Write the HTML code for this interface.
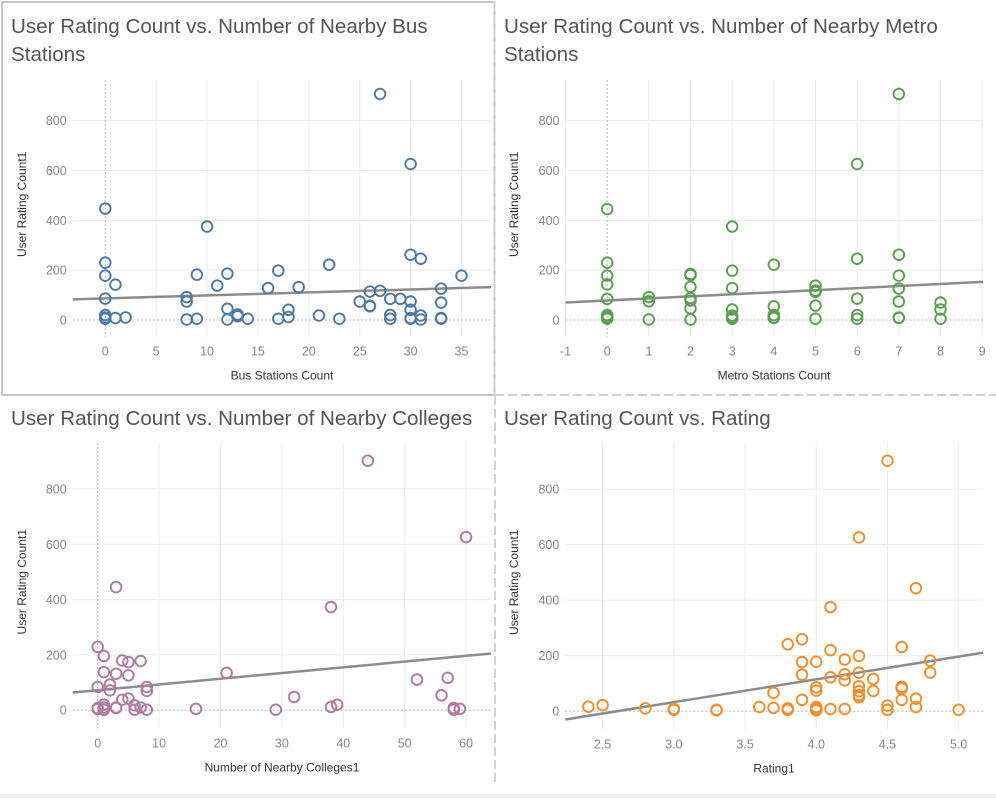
<!DOCTYPE html>
<html><head><meta charset="utf-8">
<style>
html,body{margin:0;padding:0;background:#fff;}
body{width:996px;height:798px;overflow:hidden;font-family:"Liberation Sans",sans-serif;}
svg text{font-family:"Liberation Sans",sans-serif;}
</style></head>
<body>
<svg id="root" width="996" height="798" viewBox="0 0 996 798">
  <rect x="0" y="794" width="996" height="4" fill="#f0f0f0"/>
  <rect x="2" y="2" width="492.5" height="393" fill="none" stroke="#c6c6c6" stroke-width="2"/>
  <line x1="495" y1="395" x2="996" y2="395" stroke="#b9c4d6" stroke-width="1.5" stroke-dasharray="9,4"/>
  <line x1="495" y1="396" x2="495" y2="786" stroke="#b9c4d6" stroke-width="1.5" stroke-dasharray="9,4"/>
  <line x1="495" y1="2" x2="495" y2="395" stroke="#d6dbe4" stroke-width="1" stroke-dasharray="9,4"/>
</svg>
<script>
// ---- Chart 1: Bus stations ----
const busX = [0,0,0,0,0,0,0,1,1,2,8,8,8,9,9,10,11,12,12,12,13,13,14,16,17,17,18,18,19,21,22,23,25,26,26,26,27,27,28,28,28,29,30,30,30,30,30,30,31,31,31,33,33,33,33,35];
const busY = [447,230,178,86,20,10,5,142,8,10,92,74,2,182,5,375,138,186,45,2,22,15,5,128,198,5,41,12,132,18,222,5,74,114,57,55,907,117,85,20,5,85,626,262,74,41,8,5,246,18,2,126,70,8,5,178];
const busTrend = [83,132];
const busXTicks = [0,5,10,15,20,25,30,35];
// ---- Chart 2: Metro stations ----
const metroX = [0,0,0,0,0,0,0,0,0,1,1,1,2,2,2,2,2,2,2,3,3,3,3,3,3,3,4,4,4,4,4,5,5,5,5,5,6,6,6,6,6,7,7,7,7,7,7,7,8,8,8];
const metroY = [445,230,178,143,85,20,12,8,5,92,75,2,185,180,133,88,78,46,2,375,198,128,42,18,10,5,222,55,20,10,8,138,118,113,58,5,626,246,86,20,5,907,262,178,126,74,10,8,70,42,5];
const metroTrend = [70,153];
const metroXTicks = [-1,0,1,2,3,4,5,6,7,8,9];
// ---- Chart 3: Colleges ----
const colX = [0,0,0,0,1,1,1,1,1,2,2,3,3,3,3,4,4,5,5,5,6,6,7,7,8,8,8,16,21,29,32,38,38,39,44,52,56,57,58,58,59,60];
const colY = [229,84,5,8,196,138,20,10,2,93,72,445,132,10,8,180,38,174,126,42,18,2,178,10,84,70,2,5,135,2,48,373,12,20,902,111,54,117,8,2,5,626];
const colTrend = [64,205];
const colXTicks = [0,10,20,30,40,50,60];
// ---- Chart 4: Rating ----
const ratX = [2.4,2.5,2.8,3.0,3.0,3.3,3.3,3.6,3.7,3.7,3.8,3.8,3.8,3.9,3.9,3.9,3.9,4.0,4.0,4.0,4.0,4.0,4.0,4.1,4.1,4.1,4.1,4.2,4.2,4.2,4.2,4.3,4.3,4.3,4.3,4.3,4.3,4.3,4.4,4.4,4.5,4.5,4.5,4.6,4.6,4.6,4.6,4.7,4.7,4.7,4.8,4.8,5.0];
const ratY = [16,22,10,8,5,5,3,15,66,12,241,10,5,259,177,131,41,178,86,74,15,8,3,375,220,122,8,186,133,111,8,626,199,139,90,72,58,50,116,73,902,20,5,231,88,82,41,443,45,15,182,139,5];
const ratTrend = [-30,211];
const ratXTicks = ["2.5","3.0","3.5","4.0","4.5","5.0"];
const yTicks = [0,200,400,600,800];

const NS = "http://www.w3.org/2000/svg";
const root = document.getElementById('root');
function mk(tag, attrs, parent){
  const e = document.createElementNS(NS, tag);
  for (const k in attrs) e.setAttribute(k, attrs[k]);
  (parent||root).appendChild(e);
  return e;
}

function chart(cfg){
  const g = mk('g', {});
  
  
  const L = cfg.left, R = cfg.right, T = cfg.top, B = cfg.bottom;
  const xs = v => L + (v - cfg.xmin) / (cfg.xmax - cfg.xmin) * (R - L);
  const ys = v => B - (v - cfg.ymin) / (cfg.ymax - cfg.ymin) * (B - T);
  cfg.title.forEach((t, i) => {
    const tt = mk('text', {x: cfg.titleX, y: cfg.titleY + i*28, 'font-size': 20.6, fill: '#555'}, g);
    tt.textContent = t;
    
    
  });
  yTicks.forEach(v => {
    const y = ys(v);
    if (v !== 0) {
      const gl = mk('line', {x1: L, x2: R, y1: y, y2: y, stroke: '#ececec', 'stroke-width': 1}, g);
      
      
    }
    const tl = mk('text', {x: L - 6, y: y + 4.5, 'font-size': 12.5, fill: '#888', 'text-anchor': 'end'}, g);
    tl.textContent = v;
    
    
  });
  cfg.xticks.forEach(v => {
    const x = xs(parseFloat(v));
    if (parseFloat(v) !== 0) {
      const gl = mk('line', {x1: x, x2: x, y1: T, y2: B, stroke: '#ececec', 'stroke-width': 1}, g);
      
      
    }
    const tl = mk('text', {x: x, y: B + 19, 'font-size': 12.5, fill: '#888', 'text-anchor': 'middle'}, g);
    tl.textContent = v;
    
    
  });
  const zx = mk('line', {x1: L, x2: R, y1: ys(0), y2: ys(0), stroke: '#b5b5b5', 'stroke-width': 1, 'stroke-dasharray': '2,2'}, g);
  
  
  if (cfg.xmin < 0) {
    const zy = mk('line', {x1: xs(0), x2: xs(0), y1: T, y2: B, stroke: '#b5b5b5', 'stroke-width': 1, 'stroke-dasharray': '2,2'}, g);
    
    
  }
  const xt = mk('text', {x: cfg.xTitleX, y: B + 43, 'font-size': 12, fill: '#333', 'text-anchor': 'middle'}, g);
  xt.textContent = cfg.xTitle;
  
  
  const ycx = cfg.yTitleX, ycy = (T + B) / 2 - 4;
  const yt = mk('text', {x: ycx, y: ycy, 'font-size': 12, fill: '#333', 'text-anchor': 'middle', transform: `rotate(-90 ${ycx} ${ycy})`}, g);
  yt.textContent = 'User Rating Count1';
  
  
  const tr = mk('line', {x1: L, x2: R, y1: ys(cfg.trend[0]), y2: ys(cfg.trend[1]), stroke: '#8c8c8c', 'stroke-width': 2.5}, g);
  
  
  cfg.xs.forEach((xv, i) => {
    const c = mk('circle', {cx: xs(xv), cy: ys(cfg.ys[i]), r: 5.3, fill: 'none', stroke: cfg.color, 'stroke-width': 1.9}, g);
    
    
  });
}

const YMIN = -67, YMAX = 963;
chart({name:'bus-stations-chart', title:['User Rating Count vs. Number of Nearby Bus','Stations'], titleX:11, titleY:33,
  left:72.7, right:491, top:80, bottom:336.7, xmin:-3.2, xmax:37.9, ymin:YMIN, ymax:YMAX,
  xticks:busXTicks, xs:busX, ys:busY, trend:busTrend, color:'#4e79a7', xTitle:'Bus Stations Count', xTitleX:282, yTitleX:26});
chart({name:'metro-stations-chart', title:['User Rating Count vs. Number of Nearby Metro','Stations'], titleX:504, titleY:33,
  left:565.5, right:983, top:80, bottom:336.7, xmin:-1, xmax:9.02, ymin:YMIN, ymax:YMAX,
  xticks:metroXTicks, xs:metroX, ys:metroY, trend:metroTrend, color:'#59a14f', xTitle:'Metro Stations Count', xTitleX:774, yTitleX:518});
chart({name:'colleges-chart', title:['User Rating Count vs. Number of Nearby Colleges'], titleX:11, titleY:425,
  left:72.7, right:491, top:443, bottom:728.5, xmin:-4.07, xmax:64.06, ymin:-66, ymax:966,
  xticks:colXTicks, xs:colX, ys:colY, trend:colTrend, color:'#b07aa1', xTitle:'Number of Nearby Colleges1', xTitleX:282, yTitleX:26});
chart({name:'rating-chart', title:['User Rating Count vs. Rating'], titleX:504, titleY:425,
  left:565.3, right:983.3, top:443, bottom:729.5, xmin:2.238, xmax:5.173, ymin:-66, ymax:966,
  xticks:ratXTicks, xs:ratX, ys:ratY, trend:ratTrend, color:'#f28e2b', xTitle:'Rating1', xTitleX:774, yTitleX:518});
</script>
</body></html>
